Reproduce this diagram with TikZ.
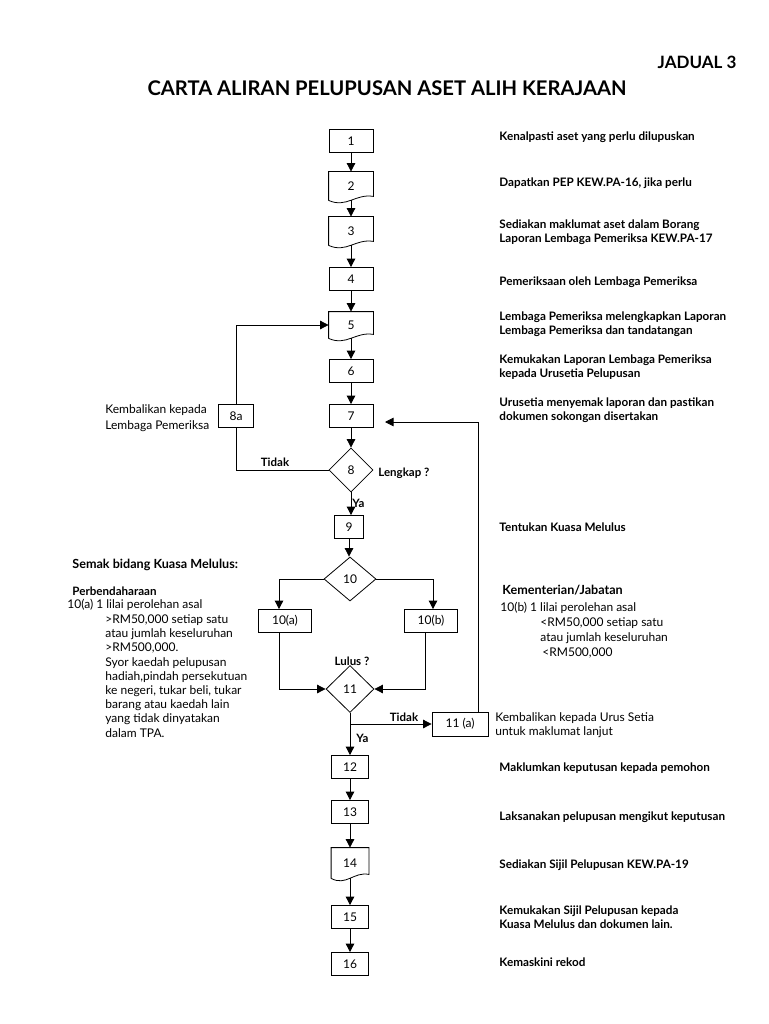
\documentclass[tikz,border=0pt]{standalone}
\usepackage{fontspec}
\setmainfont{Lato}
\usetikzlibrary{arrows.meta,shapes.geometric,calc}

\newcommand{\notesize}{\fontsize{12}{14.2}\selectfont}
\newcommand{\stepsize}{\fontsize{11.7}{14}\selectfont\bfseries}
% outline of a document box: flat top, wavy bottom
\newcommand{\docframe}[1]{%
  \draw (#1.south west) -- (#1.north west) -- (#1.north east)
    -- ($(#1.south east)+(0,-4)$)
    .. controls ($(#1.south west)!0.6!(#1.south east)+(0,-7)$)
    and ($(#1.south west)!0.4!(#1.south east)+(0,8)$) .. (#1.south west);}

\begin{document}
\begin{tikzpicture}[x=1pt,y=-1pt,line width=0.8pt,
  arr/.style={-{Triangle[length=8.5pt,width=8.5pt]}},
  stepbox/.style={draw, minimum width=44, minimum height=23, inner sep=0pt, font=\notesize},
  docbox/.style={minimum width=44, inner sep=0pt, font=\notesize},
  decision/.style={diamond, draw, minimum width=44, minimum height=44, inner sep=0pt, font=\notesize},
  stepnote/.style={anchor=west, align=left, inner sep=0pt, font=\stepsize},
  note/.style={anchor=west, align=left, inner sep=0pt, font=\notesize},
  lbl/.style={inner sep=0pt, font=\fontsize{11.5}{14}\selectfont\bfseries}]
\useasboundingbox (0,0) rectangle (768,1024);

% title
\node[font=\fontsize{17}{20}\selectfont\bfseries] (jadual) at (697,62) {JADUAL 3};
\node[font=\fontsize{20.2}{24}\selectfont\bfseries] (title) at (387,88) {CARTA ALIRAN PELUPUSAN ASET ALIH KERAJAAN};

% main column
\node[stepbox] (n1) at (351,141) {1};
\node[docbox, minimum height=28] (n2) at (351,186) {2};
\node[docbox, minimum height=28] (n3) at (351,231) {3};
\node[stepbox] (n4) at (351,279) {4};
\node[docbox, minimum height=26] (n5) at (351,325) {5};
\node[stepbox] (n6) at (351,371) {6};
\node[stepbox] (n7) at (351,416) {7};
\node[decision] (n8) at (351,470) {8};
\node[stepbox, minimum width=35] (n8a) at (236,416) {8a};
\node[stepbox, minimum width=29] (n9) at (349,527) {9};
\node[decision, minimum width=52] (n10) at (350,579) {10};
\node[stepbox, minimum width=53] (n10a) at (285,621) {10(a)};
\node[stepbox, minimum width=53] (n10b) at (431,621) {10(b)};
\node[decision, minimum width=48, minimum height=47] (n11) at (350,689) {11};
\node[stepbox, minimum width=56, minimum height=24] (n11a) at (460,724) {11 (a)};
\node[stepbox, minimum width=37] (n12) at (350,767) {12};
\node[stepbox, minimum width=37] (n13) at (350,812) {13};
\node[docbox, minimum width=37, minimum height=30] (n14) at (350,863) {14};
\node[stepbox, minimum width=37] (n15) at (350,917) {15};
\node[stepbox, minimum width=37] (n16) at (350,964) {16};
\docframe{n2}
\docframe{n3}
\docframe{n5}
\docframe{n14}

% connectors
\draw[arr] (n1) -- (n2);
\draw[arr] (n2) -- (n3);
\draw[arr] (n3) -- (n4);
\draw[arr] (n4) -- (n5);
\draw[arr] (n5) -- (n6);
\draw[arr] (n6) -- (n7);
\draw[arr] (n7) -- (n8);
\draw[arr] (n8.south) -- (n8.south |- n9.north);
\draw (n8.west) -| (n8a.south);
\draw[arr] (n8a.north) |- (n5.west);
\draw[arr] (n9.south) -- (n9.south |- n10.north);
\draw[arr] (n10.west) -| ([xshift=-6]n10a.north);
\draw[arr] (n10.east) -| ([xshift=2]n10b.north);
\draw[arr] ([xshift=-6]n10a.south) |- (n11.west);
\draw[arr] ([xshift=-6]n10b.south) |- (n11.east);
\draw[arr] (n11) -- (n12);
\coordinate (fork) at (n11.south |- n11a.west);
\draw[arr] (fork) -- (n11a.west);
\coordinate (back7) at (385,422);
\draw[arr] ([xshift=18]n11a.north) |- (back7);
\draw[arr] (n12) -- (n13);
\draw[arr] (n13) -- (n14);
\draw[arr] (n14) -- (n15);
\draw[arr] (n15) -- (n16);

% branch labels
\node[lbl] (tidak8) at (275,462) {Tidak};
\node[lbl, anchor=west] (lengkap) at (378,473) {Lengkap ?};
\node[lbl, anchor=west] (ya8) at (352,503) {Ya};
\node[lbl] (lulus) at (352,661) {Lulus ?};
\node[lbl] (tidak11) at (404,717) {Tidak};
\node[lbl, anchor=west] (ya11) at (356,738) {Ya};

% step descriptions
\node[stepnote] (s1) at (499,137) {Kenalpasti aset yang perlu dilupuskan};
\node[stepnote] (s2) at (499,183) {Dapatkan PEP KEW.PA-16, jika perlu};
\node[stepnote] (s3) at (499,232) {Sediakan maklumat aset dalam Borang\\Laporan Lembaga Pemeriksa KEW.PA-17};
\node[stepnote] (s4) at (499,282) {Pemeriksaan oleh Lembaga Pemeriksa};
\node[stepnote] (s5) at (499,324) {Lembaga Pemeriksa melengkapkan Laporan\\Lembaga Pemeriksa dan tandatangan};
\node[stepnote] (s6) at (499,367) {Kemukakan Laporan Lembaga Pemeriksa\\kepada Urusetia Pelupusan};
\node[stepnote] (s7) at (499,410) {Urusetia menyemak laporan dan pastikan\\dokumen sokongan disertakan};
\node[stepnote] (s9) at (499,527) {Tentukan Kuasa Melulus};
\node[stepnote] (s12) at (499,768) {Maklumkan keputusan kepada pemohon};
\node[stepnote] (s13) at (499,817) {Laksanakan pelupusan mengikut keputusan};
\node[stepnote] (s14) at (499,865) {Sediakan Sijil Pelupusan KEW.PA-19};
\node[stepnote] (s15) at (499,917) {Kemukakan Sijil Pelupusan kepada\\Kuasa Melulus dan dokumen lain.};
\node[stepnote] (s16) at (499,962) {Kemaskini rekod};

% side notes
\node[note, font=\fontsize{12}{16.5}\selectfont] (back8a) at (105,418) {Kembalikan kepada\\Lembaga Pemeriksa};
\node[note] (back11a) at (495,725) {Kembalikan kepada Urus Setia\\untuk maklumat lanjut};
\node[stepnote, font=\fontsize{12.6}{15}\selectfont\bfseries] (semak) at (72,565) {Semak bidang Kuasa Melulus:};
\node[stepnote, font=\fontsize{11.6}{14}\selectfont\bfseries] (perb) at (72,591) {Perbendaharaan};
\node[note] (pa) at (67,605) {10(a) 1 lilai perolehan asal};
\node[note] (pb) at (105,676) {>RM50,000 setiap satu\\atau jumlah keseluruhan\\>RM500,000.\\Syor kaedah pelupusan\\hadiah,pindah persekutuan\\ke negeri, tukar beli, tukar\\barang atau kaedah lain\\yang tidak dinyatakan\\dalam TPA.};
\node[stepnote, font=\fontsize{12.6}{15}\selectfont\bfseries] (kem) at (502,590) {Kementerian/Jabatan};
\node[note] (ka) at (500,608) {10(b) 1 lilai perolehan asal};
\node[note, font=\fontsize{12}{15.3}\selectfont] (kb) at (540,638) {<RM50,000 setiap satu\\atau jumlah keseluruhan\\\,<RM500,000};
\end{tikzpicture}
\end{document}
